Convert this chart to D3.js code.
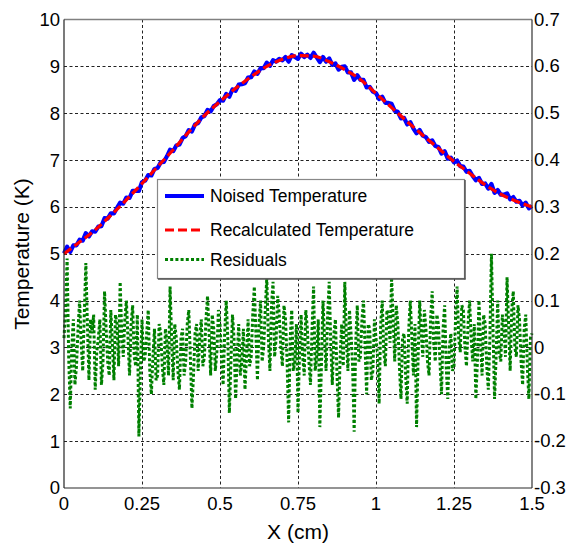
<!DOCTYPE html>
<html><head><meta charset="utf-8">
<script src="https://cdn.jsdelivr.net/npm/d3@7"></script>
<style>
html,body{margin:0;padding:0;background:#fff;}
svg{display:block;font-family:"Liberation Sans",Arial,sans-serif;}
</style></head>
<body>
<svg id="chart" width="567" height="550"></svg>
<script>
// ---------- data ----------
const residStep = 0.005; // residual sample spacing (cm)
const residuals = [
 0.02, 0.08, 0.19,-0.02,-0.13, 0.00, 0.06,-0.08,-0.04, 0.04,
 0.10, 0.01,-0.05, 0.07, 0.18, 0.05,-0.07, 0.06, 0.03, 0.07,
-0.09,-0.01, 0.02, 0.06,-0.08,-0.03, 0.12, 0.04,-0.03,-0.06,
 0.08, 0.01,-0.07, 0.07, 0.05,-0.04, 0.14, 0.03,-0.02, 0.06,
 0.10, 0.02,-0.06, 0.05, 0.09,-0.02,-0.04, 0.07,-0.19,-0.05,
 0.06,-0.03,-0.02, 0.03, 0.08,-0.05,-0.10,-0.02, 0.04,-0.07,
-0.06, 0.05, 0.03,-0.04,-0.08, 0.04, 0.01,-0.06, 0.13, 0.02,
-0.07, 0.05, 0.02,-0.05,-0.09, 0.02, 0.04,-0.06,-0.03, 0.05,
 0.08,-0.02,-0.13,-0.06, 0.03, 0.05,-0.05, 0.02, 0.06,-0.04,
-0.02, 0.06, 0.11, 0.03,-0.06, 0.07, 0.04,-0.05,-0.01, 0.08,
 0.05,-0.02,-0.08, 0.03, 0.10, 0.02,-0.14,-0.03, 0.07, 0.02,
-0.11,-0.02, 0.05,-0.06,-0.03, 0.04,-0.09,-0.02, 0.06,-0.04,
-0.02, 0.07, 0.13, 0.03,-0.07, 0.05, 0.10,-0.03, 0.00, 0.08,
 0.15, 0.02,-0.05, 0.09, 0.14,-0.02, 0.02, 0.11, 0.07, 0.00,
-0.04, 0.09, 0.06,-0.03,-0.16, 0.02, 0.08,-0.05,-0.03, 0.05,
-0.14,-0.01, 0.07,-0.02,-0.06, 0.08, 0.04,-0.03,-0.08, 0.04,
 0.13,-0.05,-0.02, 0.06,-0.17,-0.04, 0.10, 0.02,-0.05, 0.07,
 0.14, 0.01,-0.08, 0.03, 0.06,-0.06,-0.15,-0.02, 0.05,-0.04,
 0.14, 0.02,-0.05, 0.08, 0.03,-0.04,-0.18, 0.01, 0.09,-0.03,
-0.02, 0.06, 0.10, 0.00,-0.10, 0.05, 0.04,-0.07,-0.05, 0.06,
 0.02,-0.02,-0.12, 0.05, 0.10,-0.01,-0.04, 0.08, 0.07, 0.01,
 0.15, 0.06,-0.03, 0.09, 0.05,-0.04,-0.11, 0.02, 0.03,-0.06,
-0.12, 0.04, 0.10, 0.02,-0.06, 0.05,-0.17,-0.02, 0.10, 0.03,
-0.02, 0.08, 0.04,-0.03,-0.06, 0.06, 0.12, 0.01,-0.03, 0.07,
 0.05,-0.03,-0.10, 0.04, 0.09,-0.04,-0.11, 0.00, 0.03,-0.05,
-0.04, 0.06, 0.13, 0.02,-0.01, 0.09, 0.08, 0.00,-0.04, 0.05,
 0.10, 0.02,-0.03, 0.05,-0.11,-0.03, 0.10, 0.01,-0.06, 0.07,
 0.05,-0.04,-0.09, 0.02, 0.20, 0.04,-0.11,-0.02, 0.10,-0.01,
-0.03, 0.07, 0.04,-0.02, 0.15, 0.05,-0.05, 0.08, 0.12, 0.00,
-0.02, 0.09, 0.06,-0.03,-0.08, 0.04, 0.07,-0.04,-0.11, 0.02,
 0.03
];
const noisedStep = 0.01; // noised temperature sample spacing (cm)
const noisedTemp = [
5.01,5.15,5.04,5.18,5.18,5.30,5.28,5.44,5.37,5.48,
5.47,5.58,5.59,5.76,5.75,5.86,5.86,5.98,6.09,6.07,
6.20,6.19,6.34,6.34,6.34,6.53,6.56,6.68,6.67,6.81,
6.83,6.95,6.96,7.08,7.22,7.19,7.31,7.33,7.47,7.51,
7.64,7.61,7.76,7.79,7.91,7.94,8.07,8.04,8.15,8.19,
8.28,8.27,8.41,8.35,8.51,8.48,8.61,8.62,8.64,8.76,
8.77,8.89,8.84,8.96,8.96,9.08,9.01,9.13,9.10,9.16,
9.13,9.20,9.10,9.24,9.20,9.16,9.27,9.20,9.25,9.18,
9.29,9.19,9.09,9.20,9.10,9.17,9.03,9.06,8.93,8.99,
9.00,8.87,8.87,8.71,8.81,8.71,8.71,8.55,8.56,8.46,
8.43,8.30,8.35,8.22,8.22,8.20,8.05,8.03,7.89,7.90,
7.76,7.81,7.67,7.57,7.64,7.52,7.49,7.39,7.42,7.30,
7.28,7.14,7.19,7.03,7.05,6.95,6.99,6.87,6.86,6.75,
6.77,6.66,6.57,6.62,6.49,6.50,6.39,6.49,6.30,6.36,
6.26,6.26,6.29,6.16,6.21,6.11,6.13,6.03,6.09,5.97,
6.02
];
const recalcX = [0,0.05,0.1,0.15,0.2,0.25,0.3,0.35,0.4,0.45,0.5,0.55,0.6,0.65,0.7,0.75,
                 0.8,0.85,0.9,0.95,1.0,1.05,1.1,1.15,1.2,1.25,1.3,1.35,1.4,1.45,1.5];
const recalcTemp = [5.00,5.25,5.51,5.82,6.15,6.50,6.86,7.22,7.60,7.95,8.25,8.53,8.78,9.00,9.15,9.23,
                    9.22,9.10,8.93,8.72,8.42,8.12,7.82,7.53,7.25,6.97,6.72,6.47,6.27,6.12,6.00];
const xTicks = [0,0.25,0.5,0.75,1,1.25,1.5];
const xTickLabels = ["0","0.25","0.5","0.75","1","1.25","1.5"];
const yLeftTicks = [0,1,2,3,4,5,6,7,8,9,10];
const yRightTicks = [-0.3,-0.2,-0.1,0,0.1,0.2,0.3,0.4,0.5,0.6,0.7];
const yRightLabels = ["-0.3","-0.2","-0.1","0","0.1","0.2","0.3","0.4","0.5","0.6","0.7"];
const seriesNames = ["Noised Temperature","Recalculated Temperature","Residuals"];

// ---------- layout ----------
const L = 64, R = 532, T = 19.5, B = 488;
const svg = d3.select("#chart");
const x = d3.scaleLinear().domain([0,1.5]).range([L,R]);
const yL = d3.scaleLinear().domain([0,10]).range([B,T]);
const yR = d3.scaleLinear().domain([-0.3,0.7]).range([B,T]);
const fs = 18.5;

// grid
const grid = svg.append("g").attr("stroke","#222").attr("stroke-width",1).attr("stroke-dasharray","3,2.5");
grid.selectAll("line.v").data(xTicks.slice(1,-1)).join("line")
  .attr("x1",d=>Math.round(x(d))+0.5).attr("x2",d=>Math.round(x(d))+0.5).attr("y1",T).attr("y2",B);
grid.selectAll("line.h").data(yLeftTicks.slice(1,-1)).join("line")
  .attr("y1",d=>Math.round(yL(d))+0.5).attr("y2",d=>Math.round(yL(d))+0.5).attr("x1",L).attr("x2",R);

// residuals
svg.append("path").datum(residuals)
  .attr("fill","none").attr("stroke","#008000").attr("stroke-width",3)
  .attr("stroke-dasharray","3,2.2")
  .attr("d", d3.line().x((d,i)=>x(i*residStep)).y(d=>yR(d)));

// noised temperature
svg.append("path").datum(noisedTemp)
  .attr("fill","none").attr("stroke","#0000ff").attr("stroke-width",4.2).attr("stroke-linejoin","round")
  .attr("d", d3.line().x((d,i)=>x(i*noisedStep)).y(d=>yL(d)));

// recalculated temperature
svg.append("path").datum(recalcTemp)
  .attr("fill","none").attr("stroke","#ff0000").attr("stroke-width",3.2)
  .attr("stroke-dasharray","9,4")
  .attr("d", d3.line().curve(d3.curveMonotoneX).x((d,i)=>x(recalcX[i])).y(d=>yL(d)));

// frame
svg.append("line").attr("x1",L).attr("x2",R).attr("y1",T).attr("y2",T).attr("stroke","#808080").attr("stroke-width",1.5);
svg.append("line").attr("x1",L).attr("x2",R).attr("y1",B).attr("y2",B).attr("stroke","#707070").attr("stroke-width",1.5);
svg.append("line").attr("x1",L).attr("x2",L).attr("y1",T).attr("y2",B).attr("stroke","#222").attr("stroke-width",1.2);
svg.append("line").attr("x1",R).attr("x2",R).attr("y1",T).attr("y2",B).attr("stroke","#333").attr("stroke-width",1.2);

// tick labels
svg.append("g").selectAll("text").data(yLeftTicks).join("text")
  .attr("x",L-4).attr("y",d=>yL(d)).attr("dy","0.35em").attr("text-anchor","end")
  .attr("font-size",fs).text(d=>d);
svg.append("g").selectAll("text").data(yRightTicks).join("text")
  .attr("x",R+2).attr("y",d=>yR(d)).attr("dy","0.33em").attr("text-anchor","start")
  .attr("font-size",fs).text((d,i)=>yRightLabels[i]);
svg.append("g").selectAll("text").data(xTicks).join("text")
  .attr("x",d=>x(d)).attr("y",B+22).attr("text-anchor","middle")
  .attr("font-size",fs).text((d,i)=>xTickLabels[i]);

// axis titles
svg.append("text").attr("x",298).attr("y",539).attr("text-anchor","middle").attr("font-size",21).text("X (cm)");
svg.append("text").attr("transform","translate(29,254) rotate(-90)").attr("text-anchor","middle").attr("font-size",21).text("Temperature (K)");

// legend
const lg = svg.append("g");
lg.append("rect").attr("x",157.5).attr("y",179.5).attr("width",307).attr("height",99)
  .attr("fill","#fff").attr("stroke","#888").attr("stroke-width",1.2);
lg.append("line").attr("x1",465).attr("x2",465).attr("y1",180).attr("y2",279.5).attr("stroke","#555").attr("stroke-width",1.5);
lg.append("line").attr("x1",158).attr("x2",465.5).attr("y1",279).attr("y2",279).attr("stroke","#555").attr("stroke-width",1.5);
const rows = [
  {y:196, color:"#0000ff", w:4.2, dash:null},
  {y:230, color:"#ff0000", w:3.2, dash:"9,4"},
  {y:259.5, color:"#008000", w:3, dash:"3,2.2"}
];
rows.forEach((r,i)=>{
  lg.append("line").attr("x1",165).attr("x2",204).attr("y1",r.y).attr("y2",r.y)
    .attr("stroke",r.color).attr("stroke-width",r.w).attr("stroke-dasharray",r.dash);
  lg.append("text").attr("x",210).attr("y",r.y).attr("dy","0.36em").attr("font-size",17.5).text(seriesNames[i]);
});
</script>
</body></html>
